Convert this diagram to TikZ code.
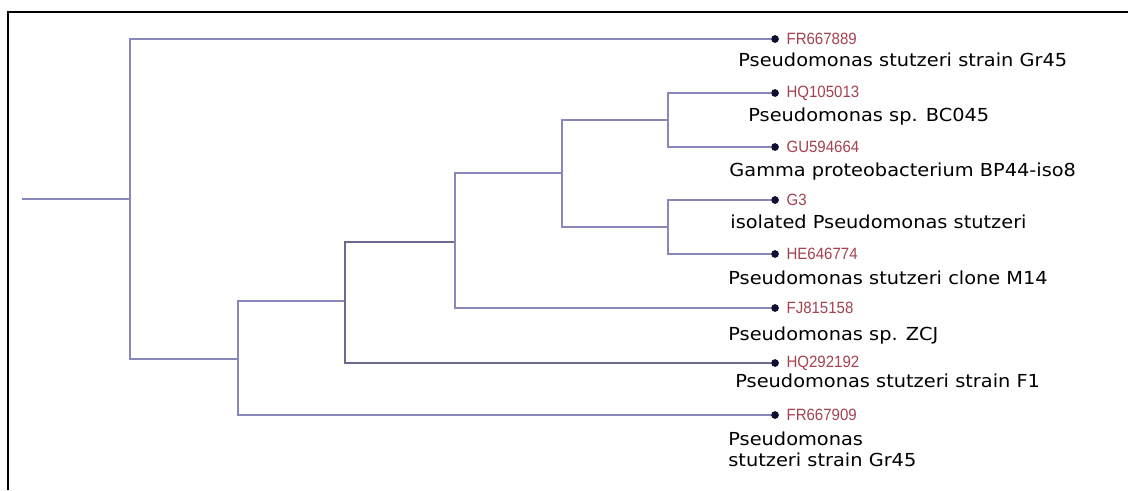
\documentclass[tikz,border=0pt]{standalone}
\usepackage{fontspec}
\setmainfont{DejaVu Sans}
\newfontfamily\idfont{Liberation Sans}
\usetikzlibrary{positioning}
\definecolor{branchcol}{RGB}{135,135,185}
\definecolor{heavycol}{RGB}{105,105,145}
\definecolor{idcol}{RGB}{165,65,80}
\definecolor{dotcol}{RGB}{15,15,50}

\begin{document}
\begin{tikzpicture}[x=0.02cm,y=-0.02cm,
        branch/.style={draw=branchcol,line width=1.2pt},
        heavy/.style={draw=heavycol,line width=1.7pt},
        leaf/.style={circle,fill=dotcol,inner sep=0pt,minimum size=4.4pt},
        acc/.style={font=\idfont\fontsize{9.3}{10}\selectfont,text=idcol,inner sep=0pt,xscale=0.92,transform shape},
        taxon/.style={font=\fontsize{10.2}{11.4}\selectfont,inner sep=0pt,anchor=base west,align=left,xscale=1.08,transform shape}]
    \useasboundingbox (0,0) rectangle (1128,490);
    % frame
    \draw[line width=1.5pt] (8,490) -- (8,12) -- (1128,12);

    % internal nodes
    \coordinate (root) at (22,199);
    \coordinate (nA) at (130,199);
    \coordinate (nB) at (238,359);
    \coordinate (nC) at (345,301);
    \coordinate (nD) at (455,242);
    \coordinate (nE) at (562,173);
    \coordinate (nF) at (668,120);
    \coordinate (nG) at (668,227);

    % leaves
    \node[leaf] (fr889) at (775,39) {};
    \node[leaf] (hq013) at (775,93) {};
    \node[leaf] (gu664) at (775,147) {};
    \node[leaf] (g3) at (775,200) {};
    \node[leaf] (he774) at (775,254) {};
    \node[leaf] (fj158) at (775,308) {};
    \node[leaf] (hq192) at (775,363) {};
    \node[leaf] (fr909) at (775,415) {};

    \node[acc,right=4pt of fr889] {FR667889};
    \node[acc,right=4pt of hq013] {HQ105013};
    \node[acc,right=4pt of gu664] {GU594664};
    \node[acc,right=4pt of g3] {G3};
    \node[acc,right=4pt of he774] {HE646774};
    \node[acc,right=4pt of fj158] {FJ815158};
    \node[acc,right=4pt of hq192] {HQ292192};
    \node[acc,right=4pt of fr909] {FR667909};

    \node[taxon] (t1) at (738,66) {Pseudomonas stutzeri strain Gr45};
    \node[taxon] (t2) at (748,121) {Pseudomonas sp. BC045};
    \node[taxon] (t3) at (729,176) {Gamma proteobacterium BP44-iso8};
    \node[taxon] (t4) at (730,228) {isolated Pseudomonas stutzeri};
    \node[taxon] (t5) at (728,284) {Pseudomonas stutzeri clone M14};
    \node[taxon] (t6) at (728,340) {Pseudomonas sp. ZCJ};
    \node[taxon] (t7) at (735,387) {Pseudomonas stutzeri strain F1};
    \node[taxon] (t8) at (728,466) {Pseudomonas\\stutzeri strain Gr45};

    % branches
    \draw[branch] (root) -- (nA);
    \draw[branch] (nA) |- (fr889);
    \draw[branch] (nA) |- (nB);
    \draw[branch] (nB) |- (nC);
    \draw[branch] (nB) |- (fr909);
    \draw[heavy] (nC) |- (nD);
    \draw[heavy] (nC) |- (hq192);
    \draw[branch] (nD) |- (nE);
    \draw[branch] (nD) |- (fj158);
    \draw[branch] (nE) |- (nF);
    \draw[branch] (nE) |- (nG);
    \draw[branch] (nF) |- (hq013);
    \draw[branch] (nF) |- (gu664);
    \draw[branch] (nG) |- (g3);
    \draw[branch] (nG) |- (he774);
\end{tikzpicture}
\end{document}
